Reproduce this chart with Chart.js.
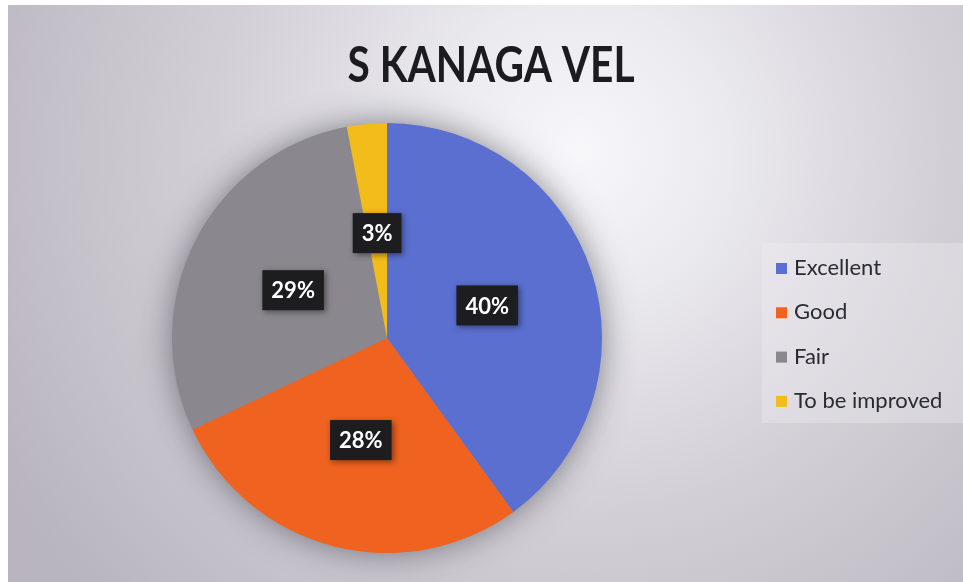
<!DOCTYPE html>
<html>
<head>
<meta charset="utf-8">
<title>S KANAGA VEL</title>
<script src="https://cdn.jsdelivr.net/npm/chart.js@4.4.1/dist/chart.umd.min.js"></script>
<style>
  html, body { margin: 0; padding: 0; background: #ffffff; }
  canvas { display: block; }
</style>
</head>
<body>
<canvas id="feedbackChart" width="963" height="582"></canvas>
<script>
// --- Dữ liệu ---
const chartTitle = "S KANAGA VEL";
const labels = ["Excellent", "Good", "Fair", "To be improved"];
const values = [40, 28, 29, 3];
const colors = ["#5a6fd0", "#f0621f", "#8a888e", "#f2bc1a"];

// nền xám loang + viền trắng mép trái/trên
const backgroundPlugin = {
	id: "paperBackground",
	beforeDraw(chart) {
		const { ctx, width, height } = chart;
		ctx.save();
		ctx.fillStyle = "#ffffff";
		ctx.fillRect(0, 0, width, height);
		const g = ctx.createRadialGradient(580, 150, 0, 580, 150, 660);
		g.addColorStop(0, "#f7f7fa");
		g.addColorStop(0.22, "#ebeaef");
		g.addColorStop(0.55, "#d2cfd6");
		g.addColorStop(1, "#b9b5bf");
		ctx.fillStyle = g;
		ctx.fillRect(8, 5, width - 8, height - 5);
		// khung chú thích sáng hơn một chút
		ctx.fillStyle = "rgba(240,238,244,0.35)";
		ctx.fillRect(762, 243, width - 762, 180);
		ctx.restore();
	}
};

// bóng đổ quanh hình tròn
const pieShadowPlugin = {
	id: "pieShadow",
	beforeDatasetsDraw(chart) {
		const arc = chart.getDatasetMeta(0).data[0];
		if (!arc) return;
		const { ctx } = chart;
		ctx.save();
		ctx.shadowColor = "rgba(40,40,50,0.6)";
		ctx.shadowBlur = 34;
		ctx.fillStyle = "#8a888e";
		ctx.beginPath();
		ctx.arc(arc.x, arc.y, arc.outerRadius - 2, 0, Math.PI * 2);
		ctx.fill();
		ctx.restore();
	}
};

// nhãn phần trăm trong ô tối
const valueLabelPlugin = {
	id: "valueLabels",
	afterDatasetsDraw(chart) {
		const { ctx } = chart;
		const ds = chart.data.datasets[0];
		chart.getDatasetMeta(0).data.forEach((el, i) => {
			const { x, y, startAngle, endAngle, outerRadius } = el.getProps(["x", "y", "startAngle", "endAngle", "outerRadius"], true);
			const mid = (startAngle + endAngle) / 2;
			const px = x + Math.cos(mid) * outerRadius * 0.49;
			const py = y + Math.sin(mid) * outerRadius * 0.49;
			const text = ds.data[i] + "%";
			ctx.save();
			ctx.font = "bold 22px Lato, 'Open Sans', sans-serif";
			const w = ctx.measureText(text).width + 18;
			const h = 40;
			ctx.shadowColor = "rgba(0,0,0,0.45)";
			ctx.shadowBlur = 6;
			ctx.shadowOffsetX = 2;
			ctx.shadowOffsetY = 2;
			ctx.fillStyle = "#1d1d20";
			ctx.fillRect(px - w / 2, py - h / 2, w, h);
			ctx.shadowColor = "transparent";
			ctx.fillStyle = "#ffffff";
			ctx.textAlign = "center";
			ctx.textBaseline = "middle";
			ctx.fillText(text, px, py + 1);
			ctx.restore();
		});
	}
};

// tiêu đề và chú thích
const textPlugin = {
	id: "titleLegend",
	afterDraw(chart) {
		const { ctx } = chart;
		ctx.save();
		ctx.fillStyle = "#1c1c1f";
		ctx.font = "bold 50px Lato, 'Open Sans', sans-serif";
		ctx.textBaseline = "alphabetic";
		const tw = ctx.measureText(chartTitle).width;
		const sx = Math.min(1, 287 / tw);
		ctx.translate(491, 82);
		ctx.scale(sx, 1);
		ctx.textAlign = "center";
		ctx.fillText(chartTitle, 0, 0);
		ctx.restore();

		ctx.save();
		ctx.font = "22px Lato, 'Open Sans', sans-serif";
		ctx.textBaseline = "middle";
		chart.data.labels.forEach((lab, i) => {
			const cy = 268 + i * 44.3;
			ctx.fillStyle = chart.data.datasets[0].backgroundColor[i];
			ctx.fillRect(776, cy - 5, 11, 11);
			ctx.fillStyle = "#2a2a31";
			ctx.fillText(lab, 794, cy);
		});
		ctx.restore();
	}
};

new Chart(document.getElementById("feedbackChart"), {
	type: "pie",
	data: {
		labels,
		datasets: [{ data: values, backgroundColor: colors, borderWidth: 0, hoverOffset: 0 }]
	},
	options: {
		responsive: false,
		animation: false,
		layout: { padding: { left: 172, right: 361, top: 123, bottom: 29 } },
		plugins: { legend: { display: false }, title: { display: false }, tooltip: { enabled: false } }
	},
	plugins: [backgroundPlugin, pieShadowPlugin, valueLabelPlugin, textPlugin]
});
</script>
</body>
</html>
